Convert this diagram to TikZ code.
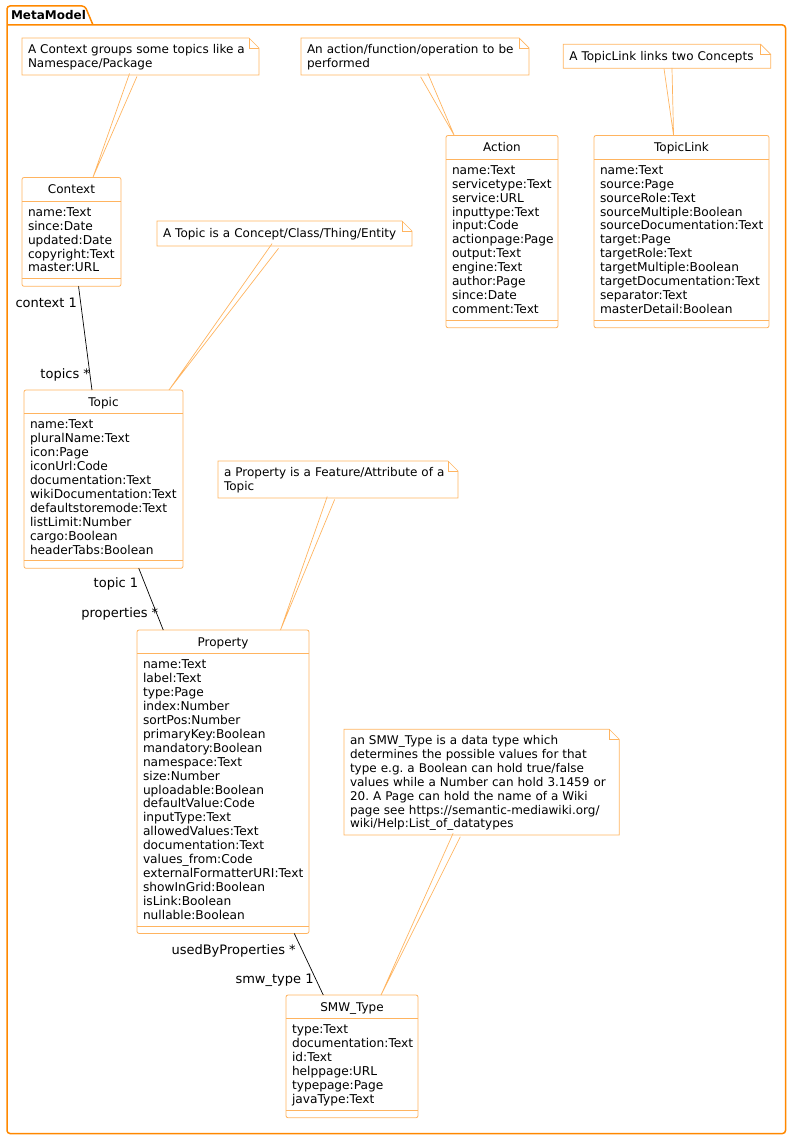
\documentclass[tikz,border=0pt]{standalone}
\usepackage{fontspec}
\setmainfont{DejaVu Sans}
\usepackage{tikz}
\usetikzlibrary{calc}
\definecolor{pkgline}{RGB}{255,136,0}
\definecolor{classline}{RGB}{255,180,96}
\frenchspacing

\begin{document}
\begin{tikzpicture}[x=1pt,y=-1pt]
		\tikzstyle{every node} = [font = \fontsize{12}{13.9}\selectfont, inner sep=0pt, outer sep=0pt]
		\tikzstyle{classbox} = [draw=classline, fill=white, rounded corners=2pt, line width=0.8pt, anchor=north west]
		\tikzstyle{classtitle} = [anchor=base]
		\tikzstyle{attrs} = [anchor=north west, align=left, font = \fontsize{12.2}{13.9}\selectfont]
		\tikzstyle{notebox} = [anchor=north west, inner xsep=6pt, align=left, execute at begin node={\rule{0pt}{11pt}}]
		\tikzstyle{noteline} = [draw=classline, line width=0.7pt]
		\tikzstyle{assoc} = [draw=black, line width=0.7pt]
		\tikzstyle{role} = [font = \fontsize{13}{15}\selectfont, anchor=base east]
				\useasboundingbox (0,0) rectangle (792,1140);
				% package frame
				\draw[pkgline, line width=1.5pt, rounded corners=3pt] (7,25)--
					(785.5,25)--(785.5,1133.5)--(7,1133.5)--(7,6)--(85,6)--(93,25);
				\node[font=\bfseries\fontsize{12}{14}\selectfont, anchor=base west] (pkgtitle)
					at (11,19.5) {MetaModel};
				% notes
				\node[notebox, text width=225pt, minimum height=37pt] (ctxnote) at (22,38)
					{A Context groups some topics like a\\Namespace/Package};
				\node[notebox, text width=216pt, minimum height=37pt] (actnote) at (301,38)
					{An action/function/operation to be\\performed};
				\node[notebox, text width=195.4pt, minimum height=24pt] (linknote) at (563.3,44.3)
					{A TopicLink links two Concepts};
				\node[notebox, text width=243pt, minimum height=25pt] (topicnote) at (157,221)
					{A Topic is a Concept/Class/Thing/Entity};
				\node[notebox, text width=228pt, minimum height=37pt] (propnote) at (218,461)
					{a Property is a Feature/Attribute of a\\Topic};
				\node[notebox, text width=263.3pt, minimum height=105.7pt] (smwnote) at (344,729.3)
					{an SMW\_Type is a data type which\\determines the possible values for that\\type e.g. a Boolean can hold true/false\\values while a Number can hold 3.1459 or\\20. A Page can hold the name of a Wiki\\page see https://semantic-mediawiki.org/\\wiki/Help:List\_of\_datatypes};
				\foreach \n in {ctxnote, actnote, linknote, topicnote, propnote, smwnote} {
					\path[noteline] (\n.north west)--([xshift=-10pt]\n.north east)--
						([yshift=-10pt]\n.north east)--(\n.south east)--(\n.south west)--cycle;
					\path[noteline] ([xshift=-10pt]\n.north east)--++(0,10)--++(10,0);
				}
				% classes
				\node[classbox, minimum width=99pt, minimum height=108.8pt] (context) at (22,177.5) {};
				\node[classtitle] (context-title) at ([yshift=-16pt]context.north) {Context};
				\node[attrs] (context-attrs) at ([xshift=6pt,yshift=-30pt]context.north west)
					{name:Text\\since:Date\\updated:Date\\copyright:Text\\master:URL};
				\node[classbox, minimum width=112pt, minimum height=192.2pt] (action) at (446,135.5) {};
				\node[classtitle] (action-title) at ([yshift=-16pt]action.north) {Action};
				\node[attrs] (action-attrs) at ([xshift=6pt,yshift=-30pt]action.north west)
					{name:Text\\servicetype:Text\\service:URL\\inputtype:Text\\input:Code\\actionpage:Page\\output:Text\\engine:Text\\author:Page\\since:Date\\comment:Text};
				\node[classbox, minimum width=175pt, minimum height=192.2pt] (topiclink) at (594,135.5) {};
				\node[classtitle] (topiclink-title) at ([yshift=-16pt]topiclink.north) {TopicLink};
				\node[attrs] (topiclink-attrs) at ([xshift=6pt,yshift=-30pt]topiclink.north west)
					{name:Text\\source:Page\\sourceRole:Text\\sourceMultiple:Boolean\\sourceDocumentation:Text\\target:Page\\targetRole:Text\\targetMultiple:Boolean\\targetDocumentation:Text\\separator:Text\\masterDetail:Boolean};
				\node[classbox, minimum width=159pt, minimum height=178.3pt] (topic) at (24,390) {};
				\node[classtitle] (topic-title) at ([yshift=-16pt]topic.north) {Topic};
				\node[attrs] (topic-attrs) at ([xshift=6pt,yshift=-30pt]topic.north west)
					{name:Text\\pluralName:Text\\icon:Page\\iconUrl:Code\\documentation:Text\\wikiDocumentation:Text\\defaultstoremode:Text\\listLimit:Number\\cargo:Boolean\\headerTabs:Boolean};
				\node[classbox, minimum width=172pt, minimum height=303.4pt] (property) at (137,630) {};
				\node[classtitle] (property-title) at ([yshift=-16pt]property.north) {Property};
				\node[attrs] (property-attrs) at ([xshift=6pt,yshift=-30pt]property.north west)
					{name:Text\\label:Text\\type:Page\\index:Number\\sortPos:Number\\primaryKey:Boolean\\mandatory:Boolean\\namespace:Text\\size:Number\\uploadable:Boolean\\defaultValue:Code\\inputType:Text\\allowedValues:Text\\documentation:Text\\values\_from:Code\\externalFormatterURI:Text\\showInGrid:Boolean\\isLink:Boolean\\nullable:Boolean};
				\node[classbox, minimum width=132pt, minimum height=122.7pt] (smwtype) at (286,995) {};
				\node[classtitle] (smwtype-title) at ([yshift=-16pt]smwtype.north) {SMW\_Type};
				\node[attrs] (smwtype-attrs) at ([xshift=6pt,yshift=-30pt]smwtype.north west)
					{type:Text\\documentation:Text\\id:Text\\helppage:URL\\typepage:Page\\javaType:Text};
				\foreach \c in {context, action, topiclink, topic, property, smwtype} {
					\path[draw=classline, line width=0.8pt] ([yshift=-23.5pt]\c.north west)--
						([yshift=-23.5pt]\c.north east);
					\path[draw=classline, line width=0.8pt] ([yshift=7.5pt]\c.south west)--
						([yshift=7.5pt]\c.south east);
				}
				% note tails
				\foreach \n/\c in {ctxnote/context, actnote/action, linknote/topiclink, topicnote/topic, propnote/property, smwnote/smwtype} {
					\path (\n)--(\c) coordinate[pos=0] (tail-a) coordinate[pos=1] (tail-b);
					\path[noteline] ($(tail-a)!4pt!90:(tail-b)$)--(tail-b)--
						($(tail-a)!4pt!-90:(tail-b)$);
				}
				% associations
				\path[assoc] (context)--(topic)
					node[role, pos=0, xshift=-1.6pt, yshift=-21pt] {context 1}
					node[role, pos=1, xshift=-2pt, yshift=12pt] {topics *};
				\path[assoc] (topic)--(property)
					node[role, pos=0, xshift=-0.6pt, yshift=-19.5pt] {topic 1}
					node[role, pos=1, xshift=-5pt, yshift=12.5pt] {properties *};
				\path[assoc] (property)--(smwtype)
					node[role, pos=0, xshift=1.5pt, yshift=-21pt] {usedByProperties *}
					node[role, pos=1, xshift=-9.7pt, yshift=12pt] {smw\_type 1};
	\end{tikzpicture}
\end{document}
